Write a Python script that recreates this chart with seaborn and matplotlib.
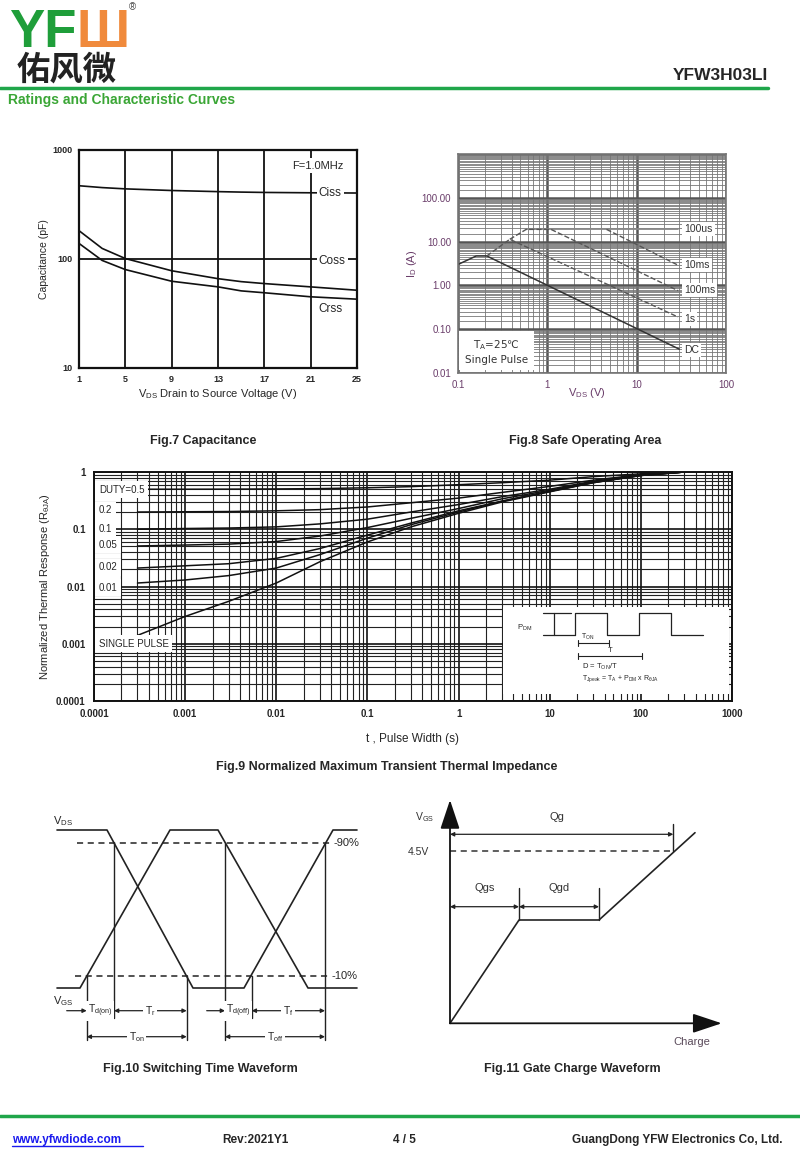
import numpy as np
import matplotlib
matplotlib.use('Agg')
import matplotlib.pyplot as plt
from matplotlib.lines import Line2D
from matplotlib.patches import Rectangle
from matplotlib.ticker import LogLocator, NullLocator, NullFormatter, FixedLocator, FixedFormatter
import seaborn as sns

W, H = 800, 1168

# Fig.7 capacitance (pF) vs VDS
vds = [1, 3, 5, 9, 13, 15, 17, 21, 25]
ciss = [470, 452, 440, 425, 415, 411, 408, 405, 403]
coss = [182, 125, 101, 78, 66, 62, 59.5, 55.5, 51.7]
crss = [139, 97, 80, 62.5, 55.5, 51, 49, 45, 42.8]

# Fig.8 safe operating area
soa_dc_v = [0.1, 0.16, 0.21, 30]
soa_dc_i = [3.0, 4.7, 4.7, 0.035]
soa_1s_v = [0.21, 0.38, 29]
soa_1s_i = [4.7, 11.3, 0.19]
soa_100ms_v = [0.38, 0.58, 1.1, 29]
soa_100ms_i = [11.3, 19, 19, 0.76]
soa_10ms_v = [4.6, 29]
soa_10ms_i = [19, 2.9]
soa_100us_v = [0.58, 29]
soa_100us_i = [19, 19]
soa_labels = ['100us', '10ms', '100ms', '1s', 'DC']
soa_label_i = [19, 2.9, 0.78, 0.17, 0.034]

# Fig.9 normalized transient thermal impedance
t_pulse = [0.0003, 0.001, 0.003, 0.01, 0.03, 0.1, 0.3, 1, 3, 10, 30, 100, 300]
z_d05 = [0.5, 0.5, 0.502, 0.506, 0.513, 0.53, 0.555, 0.6, 0.65, 0.72, 0.83, 0.93, 1.0]
z_d02 = [0.2, 0.202, 0.204, 0.21, 0.22, 0.245, 0.29, 0.35, 0.44, 0.56, 0.72, 0.9, 1.0]
z_d01 = [0.1, 0.103, 0.105, 0.11, 0.124, 0.15, 0.2, 0.27, 0.37, 0.5, 0.69, 0.88, 1.0]
z_d005 = [0.051, 0.053, 0.055, 0.061, 0.076, 0.107, 0.155, 0.23, 0.34, 0.48, 0.67, 0.88, 1.0]
z_d002 = [0.021, 0.023, 0.025, 0.031, 0.046, 0.079, 0.128, 0.21, 0.31, 0.46, 0.66, 0.87, 1.0]
z_d001 = [0.0115, 0.013, 0.0155, 0.021, 0.036, 0.07, 0.12, 0.2, 0.31, 0.46, 0.65, 0.87, 1.0]
z_single = [0.0014, 0.003, 0.0055, 0.0115, 0.027, 0.06, 0.11, 0.19, 0.3, 0.45, 0.65, 0.87, 1.0]
duty_labels = ['DUTY=0.5', '0.2', '0.1', '0.05', '0.02', '0.01', 'SINGLE PULSE']
duty_label_y = [0.49, 0.214, 0.099, 0.054, 0.0215, 0.0095, 0.00099]

# inset pulse sketch (figure pixels)
pulse_x = [575, 575, 606.7, 606.7, 639.3, 639.3, 671, 671, 703.3]
pulse_y = [635, 613.3, 613.3, 635, 635, 613.3, 613.3, 635, 635]

# Fig.10 switching waveform (figure pixels)
vds_wave_x = [57, 107, 193, 244, 333, 357]
vds_wave_y = [830, 830, 988, 988, 830, 830]
vgs_wave_x = [57, 80, 170, 218, 308, 357]
vgs_wave_y = [988, 988, 830, 830, 988, 988]
mark_x = [86.7, 114, 186.7, 225, 251.7, 325]
mark_top = [975.7, 843.3, 975.7, 843.3, 975.7, 843.3]
mark_bot = [1040, 1018.3, 1040, 1040, 1018.3, 1040]

# Fig.11 gate charge (figure pixels)
qg_x = [450, 519, 599, 695]
qg_y = [1023.3, 920, 920, 832.7]

sns.set_theme(style='white')
plt.rcParams['font.family'] = ['Liberation Sans', 'Noto Sans CJK SC', 'DejaVu Sans']
plt.rcParams['mathtext.default'] = 'regular'

fig = plt.figure(figsize=(8, 11.68), dpi=100)


def rect(l, t, r, b):
    return [l / W, 1 - b / H, (r - l) / W, (b - t) / H]


def ftext(x, y, s, **kw):
    fig.text(x / W, 1 - y / H, s, **kw)


def fline(x0, x1, y, **kw):
    fig.add_artist(Line2D([x0 / W, x1 / W], [1 - y / H, 1 - y / H], **kw))


# header / footer
green = '#1fa64a'
ftext(9, 47, 'YF', color='#1f9e3a', fontsize=38, fontweight='bold', va='baseline')
ftext(77, 47, 'Ш', color='#f08a3c', fontsize=38, fontweight='bold', va='baseline')
ftext(129, 7, '®', color='#444', fontsize=7, va='center')
ftext(17, 80, '佑风微', color='#222', fontsize=24, fontweight='bold', va='baseline',
      family=['Noto Sans CJK SC'])
ftext(768, 80, 'YFW3H03LI', fontsize=12.5, fontweight='bold', ha='right', va='baseline')
fline(0, 768, 88, color=green, lw=2.5)
ftext(8, 104, 'Ratings and Characteristic Curves', color='#3aa635', fontsize=10,
      fontweight='bold', va='baseline')
fline(0, 800, 1116, color=green, lw=2.5)
ftext(12, 1143, 'www.yfwdiode.com', color='#1a1aee', fontsize=8.5, fontweight='bold', va='baseline')
fline(12, 143, 1146, color='#1a1aee', lw=1)
ftext(222, 1143, 'Rev:2021Y1', fontsize=8.5, fontweight='bold', va='baseline')
ftext(393, 1143, '4 / 5', fontsize=8.5, fontweight='bold', va='baseline')
ftext(782, 1143, 'GuangDong YFW Electronics Co, Ltd.', fontsize=8.5, fontweight='bold',
      ha='right', va='baseline')

cap = dict(fontsize=9, fontweight='bold', ha='center', va='center')
ftext(203, 441, 'Fig.7 Capacitance', **cap)
ftext(585, 441, 'Fig.8 Safe Operating Area', **cap)
ftext(387, 767, 'Fig.9 Normalized Maximum Transient Thermal Impedance', **cap)
ftext(200, 1069, 'Fig.10 Switching Time Waveform', **cap)
ftext(572, 1069, 'Fig.11 Gate Charge Waveform', **cap)

white_box = dict(facecolor='white', edgecolor='none', pad=1.5)

# ---------------- Fig.7 ----------------
ax7 = fig.add_axes(rect(79, 150, 357, 368))
for ys in (ciss, coss, crss):
    sns.lineplot(x=vds, y=ys, ax=ax7, color='#111', lw=1.2)
ax7.set_yscale('log')
ax7.set_xlim(1, 25)
ax7.set_ylim(10, 1000)
ax7.set_xticks([1, 5, 9, 13, 17, 21, 25])
ax7.set_yticks([10, 100, 1000])
ax7.yaxis.set_minor_locator(NullLocator())
ax7.set_yticklabels(['10', '100', '1000'])
ax7.grid(True, which='major', color='#111', lw=1.3)
ax7.set_axisbelow(True)
ax7.tick_params(length=0, labelsize=6.5, pad=5)
for lab in ax7.get_xticklabels() + ax7.get_yticklabels():
    lab.set_fontweight('bold')
for s in ax7.spines.values():
    s.set_color('#111')
    s.set_linewidth(1.6)
ax7.set_ylabel('Capacitance (pF)', fontsize=7.5, labelpad=2)
ax7.set_xlabel('V$_{DS}$ Drain to Source Voltage (V)', fontsize=8, labelpad=2)
ax7.text(19.4, 720, 'F=1.0MHz', fontsize=8, va='center', bbox=white_box, zorder=2.3)
ax7.text(21.7, 405, 'Ciss', fontsize=8.5, va='center', bbox=white_box, zorder=2.3)
ax7.text(21.7, 95, 'Coss', fontsize=8.5, va='center', bbox=white_box, zorder=2.3)
ax7.text(21.7, 35, 'Crss', fontsize=8.5, va='center', bbox=white_box, zorder=2.3)

# ---------------- Fig.8 ----------------
purple = '#6a3d6a'
ax8 = fig.add_axes(rect(458, 154, 726, 373))
sns.lineplot(x=soa_dc_v, y=soa_dc_i, ax=ax8, color='#333', lw=1.1)
sns.lineplot(x=soa_100us_v, y=soa_100us_i, ax=ax8, color='#888', lw=1.3)
for xs, ys in ((soa_1s_v, soa_1s_i), (soa_100ms_v, soa_100ms_i), (soa_10ms_v, soa_10ms_i)):
    sns.lineplot(x=xs, y=ys, ax=ax8, color='#555', lw=1.0, linestyle='--')
ax8.set_xscale('log')
ax8.set_yscale('log')
ax8.set_xlim(0.1, 100)
ax8.set_ylim(0.01, 1000)
ax8.xaxis.set_major_locator(FixedLocator([0.1, 1, 10, 100]))
ax8.xaxis.set_major_formatter(FixedFormatter(['0.1', '1', '10', '100']))
ax8.yaxis.set_major_locator(FixedLocator([0.01, 0.1, 1, 10, 100, 1000]))
ax8.yaxis.set_major_formatter(FixedFormatter(['0.01', '0.10', '1.00', '10.00', '100.00', '']))
ax8.xaxis.set_minor_locator(LogLocator(base=10, subs=np.arange(2, 10), numticks=20))
ax8.yaxis.set_minor_locator(LogLocator(base=10, subs=np.arange(1.5, 10, 0.5), numticks=40))
ax8.xaxis.set_minor_formatter(NullFormatter())
ax8.yaxis.set_minor_formatter(NullFormatter())
ax8.grid(True, which='major', color='#555', lw=1.8)
ax8.grid(True, which='minor', color='#777', lw=0.6)
ax8.set_axisbelow(True)
ax8.tick_params(which='both', length=0, labelsize=7, labelcolor=purple, pad=5)
for s in ax8.spines.values():
    s.set_color('#777')
    s.set_linewidth(1.2)
ax8.set_ylabel('I$_D$ (A)', fontsize=8, color=purple, labelpad=2)
ax8.text(0.41, -0.09, 'V$_{DS}$ (V)', transform=ax8.transAxes, fontsize=8, color=purple,
         va='center')
for lab, yv in zip(soa_labels, soa_label_i):
    ax8.text(34, yv, lab, fontsize=7.5, color='#333', va='center', bbox=white_box, zorder=2.3)
ax8.text(0.27, 0.031, 'T$_A$=25℃\nSingle Pulse', fontsize=7.5, color='#333', ha='center',
         va='center', linespacing=1.3, family=['DejaVu Sans'],
         bbox=dict(facecolor='white', edgecolor='none', pad=4), zorder=2.3)

# ---------------- Fig.9 ----------------
ax9 = fig.add_axes(rect(94, 472, 732, 701))
for zs in (z_d05, z_d02, z_d01, z_d005, z_d002, z_d001, z_single):
    sns.lineplot(x=t_pulse, y=zs, ax=ax9, color='#111', lw=1.1)
ax9.set_xscale('log')
ax9.set_yscale('log')
ax9.set_xlim(0.0001, 1000)
ax9.set_ylim(0.0001, 1)
ax9.xaxis.set_major_locator(FixedLocator([1e-4, 1e-3, 1e-2, 0.1, 1, 10, 100, 1000]))
ax9.xaxis.set_major_formatter(FixedFormatter(['0.0001', '0.001', '0.01', '0.1', '1', '10', '100', '1000']))
ax9.yaxis.set_major_locator(FixedLocator([1e-4, 1e-3, 1e-2, 0.1, 1]))
ax9.yaxis.set_major_formatter(FixedFormatter(['0.0001', '0.001', '0.01', '0.1', '1']))
ax9.xaxis.set_minor_locator(LogLocator(base=10, subs=np.arange(2, 10), numticks=30))
ax9.yaxis.set_minor_locator(LogLocator(base=10, subs=np.arange(2, 10), numticks=30))
ax9.xaxis.set_minor_formatter(NullFormatter())
ax9.yaxis.set_minor_formatter(NullFormatter())
ax9.grid(True, which='major', color='#111', lw=1.2)
ax9.grid(True, which='minor', color='#222', lw=0.8)
ax9.set_axisbelow(True)
ax9.tick_params(which='both', length=0, labelsize=7, pad=6)
for lab in ax9.get_xticklabels() + ax9.get_yticklabels():
    lab.set_fontweight('bold')
for s in ax9.spines.values():
    s.set_color('#111')
    s.set_linewidth(1.4)
ax9.set_ylabel('Normalized Thermal Response (R$_{θJA}$)', fontsize=8, labelpad=3)
ax9.set_xlabel('t , Pulse Width (s)', fontsize=8.5, labelpad=10)
for lab, yv in zip(duty_labels, duty_label_y):
    ax9.text(0.000113, yv, lab, fontsize=7, va='center',
             bbox=dict(facecolor='white', edgecolor='none', pad=2.5), zorder=2.3)
ax9.add_patch(Rectangle((0.641, 0.03), 0.354, 0.38, transform=ax9.transAxes,
                        facecolor='white', edgecolor='none', zorder=2.3))

axi = fig.add_axes(rect(503, 607, 732, 701))
axi.set_xlim(503, 732)
axi.set_ylim(701, 607)
axi.axis('off')
axi.patch.set_alpha(0)
axi.plot([543.3, 571], [613.3, 613.3], color='#222', lw=0.9)
axi.plot([554, 554], [613.3, 635], color='#222', lw=0.9)
axi.plot([543.3, 575], [635, 635], color='#222', lw=0.9)
axi.plot(pulse_x, pulse_y, color='#222', lw=0.9)
for x0, x1, yy in ((577.7, 609.3, 642.7), (577.7, 642.3, 656)):
    axi.plot([x0, x1], [yy, yy], color='#222', lw=0.8)
    axi.plot([x0, x0], [yy - 3, yy + 3], color='#222', lw=0.8)
    axi.plot([x1, x1], [yy - 3, yy + 3], color='#222', lw=0.8)
axi.text(517, 628.3, 'P$_{DM}$', fontsize=5.5, va='center')
axi.text(581, 637, 'T$_{ON}$', fontsize=5, va='center')
axi.text(608, 650.5, 'T', fontsize=5.5, va='center')
axi.text(581.7, 667.3, 'D = T$_{ON}$/T', fontsize=5.5, va='center')
axi.text(581.7, 678.3, 'T$_{Jpeak}$ = T$_A$ + P$_{DM}$ x R$_{θJA}$', fontsize=5, va='center')

# ---------------- Fig.10 ----------------
ax10 = fig.add_axes(rect(40, 800, 380, 1060))
ax10.set_xlim(40, 380)
ax10.set_ylim(1060, 800)
ax10.axis('off')
ax10.plot(vds_wave_x, vds_wave_y, color='#222', lw=1.2)
ax10.plot(vgs_wave_x, vgs_wave_y, color='#222', lw=1.2)
ax10.plot([76.7, 333.3], [843.3, 843.3], color='#222', lw=1.1, linestyle=(0, (4, 3)))
ax10.plot([75, 330], [975.7, 975.7], color='#222', lw=1.1, linestyle=(0, (4, 3)))
for xm, yt, yb in zip(mark_x, mark_top, mark_bot):
    ax10.plot([xm, xm], [yt, yb], color='#222', lw=1.0)
ax10.text(334, 843.3, '-90%', fontsize=8, va='center')
ax10.text(331, 975.7, '-10%', fontsize=8, va='center')
ax10.text(53, 821, 'V$_{DS}$', fontsize=8, va='center')
ax10.text(53, 1001, 'V$_{GS}$', fontsize=8, va='center')

arw = dict(arrowstyle='-|>', color='#222', lw=0.9, mutation_scale=6, shrinkA=0, shrinkB=0)
arw2 = dict(arrowstyle='<|-|>', color='#222', lw=0.9, mutation_scale=6, shrinkA=0, shrinkB=0)
ax10.annotate('', xy=(86.7, 1010.7), xytext=(66.7, 1010.7), arrowprops=arw)
ax10.annotate('', xy=(225, 1010.7), xytext=(206.7, 1010.7), arrowprops=arw)
ax10.annotate('', xy=(186.7, 1010.7), xytext=(114, 1010.7), arrowprops=arw2)
ax10.annotate('', xy=(325, 1010.7), xytext=(251.7, 1010.7), arrowprops=arw2)
ax10.annotate('', xy=(186.7, 1036.7), xytext=(86.7, 1036.7), arrowprops=arw2)
ax10.annotate('', xy=(325, 1036.7), xytext=(225, 1036.7), arrowprops=arw2)
wb = dict(facecolor='white', edgecolor='none', pad=1)
ax10.text(100.3, 1011, 'T$_{d(on)}$', fontsize=7.5, ha='center', va='center', bbox=wb)
ax10.text(150, 1011, 'T$_r$', fontsize=7.5, ha='center', va='center', bbox=wb)
ax10.text(238.3, 1011, 'T$_{d(off)}$', fontsize=7.5, ha='center', va='center', bbox=wb)
ax10.text(288, 1011, 'T$_f$', fontsize=7.5, ha='center', va='center', bbox=wb)
ax10.text(136.7, 1037, 'T$_{on}$', fontsize=7.5, ha='center', va='center', bbox=wb)
ax10.text(275, 1037, 'T$_{off}$', fontsize=7.5, ha='center', va='center', bbox=wb)

# ---------------- Fig.11 ----------------
ax11 = fig.add_axes(rect(400, 790, 740, 1060))
ax11.set_xlim(400, 740)
ax11.set_ylim(1060, 790)
ax11.axis('off')
big = dict(arrowstyle='-|>,head_length=0.9,head_width=0.3', color='#111', lw=1.3,
           mutation_scale=20, shrinkA=0, shrinkB=0)
ax11.annotate('', xy=(450, 800), xytext=(450, 1023.3), arrowprops=big)
ax11.annotate('', xy=(721.7, 1023.3), xytext=(450, 1023.3), arrowprops=big)
ax11.plot(qg_x, qg_y, color='#222', lw=1.2)
ax11.plot([450, 673.3], [851, 851], color='#333', lw=1.1, linestyle=(0, (4, 3)))
ax11.annotate('', xy=(673.3, 834.3), xytext=(450, 834.3), arrowprops=arw2)
ax11.annotate('', xy=(519, 906.7), xytext=(450, 906.7), arrowprops=arw2)
ax11.annotate('', xy=(599, 906.7), xytext=(519, 906.7), arrowprops=arw2)
ax11.plot([673.3, 673.3], [824.3, 851], color='#222', lw=1.0)
ax11.plot([519, 519], [888.3, 920], color='#222', lw=1.0)
ax11.plot([599, 599], [888.3, 920], color='#222', lw=1.0)
ax11.text(556.7, 816.7, 'Qg', fontsize=8, ha='center', va='center', color='#333')
ax11.text(484.3, 888, 'Qgs', fontsize=8, ha='center', va='center', color='#333')
ax11.text(559.3, 888, 'Qgd', fontsize=8, ha='center', va='center', color='#333')
ax11.text(425, 816.7, 'V$_{GS}$', fontsize=7.5, ha='center', va='center', color='#333')
ax11.text(418.3, 851.7, '4.5V', fontsize=7.5, ha='center', va='center', color='#333')
ax11.text(691.7, 1041.7, 'Charge', fontsize=8, ha='center', va='center', color='#5a4a5a')

fig.savefig('out.png', dpi=100)
